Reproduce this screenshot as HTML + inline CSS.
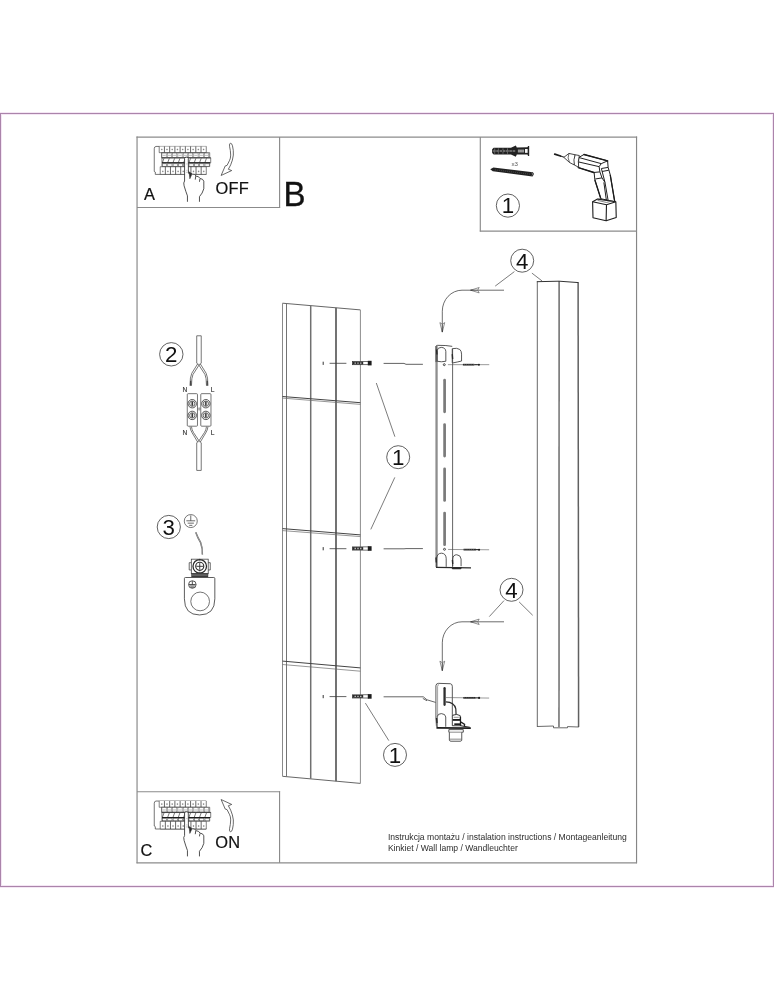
<!DOCTYPE html>
<html lang="pl">
<head>
<meta charset="utf-8">
<title>Instrukcja montażu</title>
<style>
html,body{margin:0;padding:0;background:#fff;}
body{width:774px;height:1000px;position:relative;overflow:hidden;font-family:"Liberation Sans",sans-serif;}
svg{position:absolute;left:0;top:0;display:block;will-change:transform;}
svg text{font-family:"Liberation Sans",sans-serif;}
</style>
</head>
<body>
<svg width="774" height="1000" viewBox="0 0 774 1000">
<rect x="0" y="0" width="774" height="1000" fill="#fff"/>
<rect x="0.5" y="113.5" width="773" height="773" fill="none" stroke="#f4e6f4" stroke-width="3"/>
<rect x="0.5" y="113.5" width="773" height="773" fill="none" stroke="#ab84ab" stroke-width="1"/>
<line x1="137.05" y1="136.5" x2="137.05" y2="863.3" stroke="#8b8b8b" stroke-width="1.2" />
<line x1="136.5" y1="137.05" x2="637.1" y2="137.05" stroke="#8b8b8b" stroke-width="1.2" />
<line x1="636.55" y1="136.5" x2="636.55" y2="863.3" stroke="#868686" stroke-width="1.15" />
<line x1="136.5" y1="862.8" x2="637" y2="862.8" stroke="#8b8b8b" stroke-width="1.2" />
<line x1="279.6" y1="137" x2="279.6" y2="208" stroke="#8b8b8b" stroke-width="1.15" />
<line x1="137" y1="207.45" x2="280.1" y2="207.45" stroke="#8b8b8b" stroke-width="1.15" />
<line x1="480.3" y1="137" x2="480.3" y2="231.6" stroke="#8b8b8b" stroke-width="1.15" />
<line x1="479.8" y1="231.1" x2="636.5" y2="231.1" stroke="#8b8b8b" stroke-width="1.2" />
<line x1="137" y1="791.7" x2="280.1" y2="791.7" stroke="#8b8b8b" stroke-width="1.15" />
<line x1="279.56" y1="791.2" x2="279.56" y2="862.8" stroke="#8b8b8b" stroke-width="1.15" />
<g transform="translate(150,142) scale(0.08527)" ><path d="M660,52 L70,52 Q50,54 50,78 L50,345 L62,352 L62,380 L660,380" stroke="#2c2c2c" stroke-width="7.73982" fill="#fff" />
<path d="M108,52 V125 H660 V52" stroke="#2c2c2c" stroke-width="7.0362" fill="#fff" />
<line x1="169.3" y1="52" x2="169.3" y2="125" stroke="#2c2c2c" stroke-width="8.44344" />
<line x1="230.6" y1="52" x2="230.6" y2="125" stroke="#2c2c2c" stroke-width="8.44344" />
<line x1="291.9" y1="52" x2="291.9" y2="125" stroke="#2c2c2c" stroke-width="8.44344" />
<line x1="353.2" y1="52" x2="353.2" y2="125" stroke="#2c2c2c" stroke-width="8.44344" />
<line x1="414.5" y1="52" x2="414.5" y2="125" stroke="#2c2c2c" stroke-width="8.44344" />
<line x1="475.8" y1="52" x2="475.8" y2="125" stroke="#2c2c2c" stroke-width="8.44344" />
<line x1="537.1" y1="52" x2="537.1" y2="125" stroke="#2c2c2c" stroke-width="8.44344" />
<line x1="598.4" y1="52" x2="598.4" y2="125" stroke="#2c2c2c" stroke-width="8.44344" />
<path d="M129,88 h18 M138,78 v20" stroke="#555" stroke-width="5.62896" fill="none" />
<path d="M190.3,88 h18 M199.3,78 v20" stroke="#555" stroke-width="5.62896" fill="none" />
<path d="M251.6,88 h18 M260.6,78 v20" stroke="#555" stroke-width="5.62896" fill="none" />
<path d="M312.9,88 h18 M321.9,78 v20" stroke="#555" stroke-width="5.62896" fill="none" />
<path d="M374.2,88 h18 M383.2,78 v20" stroke="#555" stroke-width="5.62896" fill="none" />
<path d="M435.5,88 h18 M444.5,78 v20" stroke="#555" stroke-width="5.62896" fill="none" />
<path d="M496.8,88 h18 M505.8,78 v20" stroke="#555" stroke-width="5.62896" fill="none" />
<path d="M558.1,88 h18 M567.1,78 v20" stroke="#555" stroke-width="5.62896" fill="none" />
<path d="M619.4,88 h18 M628.4,78 v20" stroke="#555" stroke-width="5.62896" fill="none" />
<path d="M135,125 H700 V185 H135 Z" stroke="#2c2c2c" stroke-width="7.0362" fill="#fff" />
<rect x="140" y="130" width="50" height="50" fill="#fff" stroke="#555" stroke-width="5.62896"/>
<rect x="146" y="150" width="38" height="14" fill="#c8c8c8"/>
<rect x="202.3" y="130" width="50" height="50" fill="#fff" stroke="#555" stroke-width="5.62896"/>
<rect x="208.3" y="150" width="38" height="14" fill="#c8c8c8"/>
<rect x="264.6" y="130" width="50" height="50" fill="#fff" stroke="#555" stroke-width="5.62896"/>
<rect x="270.6" y="150" width="38" height="14" fill="#c8c8c8"/>
<rect x="326.9" y="130" width="50" height="50" fill="#fff" stroke="#555" stroke-width="5.62896"/>
<rect x="332.9" y="150" width="38" height="14" fill="#c8c8c8"/>
<rect x="389.2" y="130" width="50" height="50" fill="#fff" stroke="#555" stroke-width="5.62896"/>
<rect x="395.2" y="150" width="38" height="14" fill="#c8c8c8"/>
<rect x="451.5" y="130" width="50" height="50" fill="#fff" stroke="#555" stroke-width="5.62896"/>
<rect x="457.5" y="150" width="38" height="14" fill="#c8c8c8"/>
<rect x="513.8" y="130" width="50" height="50" fill="#fff" stroke="#555" stroke-width="5.62896"/>
<rect x="519.8" y="150" width="38" height="14" fill="#c8c8c8"/>
<rect x="576.1" y="130" width="50" height="50" fill="#fff" stroke="#555" stroke-width="5.62896"/>
<rect x="582.1" y="150" width="38" height="14" fill="#c8c8c8"/>
<rect x="638.4" y="130" width="50" height="50" fill="#fff" stroke="#555" stroke-width="5.62896"/>
<rect x="644.4" y="150" width="38" height="14" fill="#c8c8c8"/>
<path d="M140,185 H712 V245 H140 Z" stroke="#2c2c2c" stroke-width="7.0362" fill="#fff" />
<path d="M146,240 L164,192" stroke="#3a3a3a" stroke-width="8.09163" fill="none" />
<path d="M208.3,240 L226.3,192" stroke="#3a3a3a" stroke-width="8.09163" fill="none" />
<path d="M270.6,240 L288.6,192" stroke="#3a3a3a" stroke-width="8.09163" fill="none" />
<path d="M332.9,240 L350.9,192" stroke="#3a3a3a" stroke-width="8.09163" fill="none" />
<path d="M395.2,240 L413.2,192" stroke="#3a3a3a" stroke-width="8.09163" fill="none" />
<path d="M457.5,240 L475.5,192" stroke="#3a3a3a" stroke-width="8.09163" fill="none" />
<path d="M519.8,240 L537.8,192" stroke="#3a3a3a" stroke-width="8.09163" fill="none" />
<path d="M582.1,240 L600.1,192" stroke="#3a3a3a" stroke-width="8.09163" fill="none" />
<path d="M644.4,240 L662.4,192" stroke="#3a3a3a" stroke-width="8.09163" fill="none" />
<line x1="140" y1="187" x2="712" y2="187" stroke="#2a2a2a" stroke-width="8.44344" />
<line x1="140" y1="246" x2="705" y2="246" stroke="#111" stroke-width="15.4796" />
<path d="M140,250 H700 V288 H140 Z" stroke="#2c2c2c" stroke-width="7.0362" fill="#fff" />
<rect x="146" y="256" width="50" height="28" fill="#fff" stroke="#444" stroke-width="6.33258"/>
<rect x="208.3" y="256" width="50" height="28" fill="#fff" stroke="#444" stroke-width="6.33258"/>
<rect x="270.6" y="256" width="50" height="28" fill="#fff" stroke="#444" stroke-width="6.33258"/>
<rect x="332.9" y="256" width="50" height="28" fill="#fff" stroke="#444" stroke-width="6.33258"/>
<rect x="395.2" y="256" width="50" height="28" fill="#fff" stroke="#444" stroke-width="6.33258"/>
<rect x="457.5" y="256" width="50" height="28" fill="#fff" stroke="#444" stroke-width="6.33258"/>
<rect x="519.8" y="256" width="50" height="28" fill="#fff" stroke="#444" stroke-width="6.33258"/>
<rect x="582.1" y="256" width="50" height="28" fill="#fff" stroke="#444" stroke-width="6.33258"/>
<rect x="644.4" y="256" width="50" height="28" fill="#fff" stroke="#444" stroke-width="6.33258"/>
<path d="M120,290 V380 H660 V290 Z" stroke="#2c2c2c" stroke-width="7.0362" fill="#fff" />
<line x1="180" y1="290" x2="180" y2="380" stroke="#2c2c2c" stroke-width="8.44344" />
<line x1="240" y1="290" x2="240" y2="380" stroke="#2c2c2c" stroke-width="8.44344" />
<line x1="300" y1="290" x2="300" y2="380" stroke="#2c2c2c" stroke-width="8.44344" />
<line x1="360" y1="290" x2="360" y2="380" stroke="#2c2c2c" stroke-width="8.44344" />
<line x1="420" y1="290" x2="420" y2="380" stroke="#2c2c2c" stroke-width="8.44344" />
<line x1="480" y1="290" x2="480" y2="380" stroke="#2c2c2c" stroke-width="8.44344" />
<line x1="540" y1="290" x2="540" y2="380" stroke="#2c2c2c" stroke-width="8.44344" />
<line x1="600" y1="290" x2="600" y2="380" stroke="#2c2c2c" stroke-width="8.44344" />
<path d="M141,345 h18 M150,335 v20" stroke="#555" stroke-width="5.62896" fill="none" />
<path d="M201,345 h18 M210,335 v20" stroke="#555" stroke-width="5.62896" fill="none" />
<path d="M261,345 h18 M270,335 v20" stroke="#555" stroke-width="5.62896" fill="none" />
<path d="M321,345 h18 M330,335 v20" stroke="#555" stroke-width="5.62896" fill="none" />
<path d="M381,345 h18 M390,335 v20" stroke="#555" stroke-width="5.62896" fill="none" />
<path d="M441,345 h18 M450,335 v20" stroke="#555" stroke-width="5.62896" fill="none" />
<path d="M501,345 h18 M510,335 v20" stroke="#555" stroke-width="5.62896" fill="none" />
<path d="M561,345 h18 M570,335 v20" stroke="#555" stroke-width="5.62896" fill="none" />
<path d="M621,345 h18 M630,335 v20" stroke="#555" stroke-width="5.62896" fill="none" />
</g>
<g transform="translate(170,150) scale(0.07752)" ><path d="M225,668 L225,592 Q205,540 182,462 Q170,420 188,400 L188,108 Q188,92 211,92 Q236,92 236,108 L238,300 Q270,290 290,312 Q320,305 338,338 Q370,335 388,368 Q425,370 436,402 L436,500 Q420,560 380,602 L380,668" stroke="#262626" stroke-width="10.32" fill="#fff" stroke-linejoin="round"/>
<path d="M246,282 L256,372 L282,314 Z" stroke="#222" stroke-width="6.192" fill="#2a2a2a" />
<path d="M332,336 L326,382 M386,372 L380,410" stroke="#262626" stroke-width="10.32" fill="none" />
<path d="M212,180 h12 M212,262 h12 M210,288 h16" stroke="#888" stroke-width="8.256" fill="none" />
</g>
<g transform="translate(150,796.6) scale(0.08527)" ><path d="M660,52 L70,52 Q50,54 50,78 L50,345 L62,352 L62,380 L660,380" stroke="#2c2c2c" stroke-width="7.73982" fill="#fff" />
<path d="M108,52 V125 H660 V52" stroke="#2c2c2c" stroke-width="7.0362" fill="#fff" />
<line x1="169.3" y1="52" x2="169.3" y2="125" stroke="#2c2c2c" stroke-width="8.44344" />
<line x1="230.6" y1="52" x2="230.6" y2="125" stroke="#2c2c2c" stroke-width="8.44344" />
<line x1="291.9" y1="52" x2="291.9" y2="125" stroke="#2c2c2c" stroke-width="8.44344" />
<line x1="353.2" y1="52" x2="353.2" y2="125" stroke="#2c2c2c" stroke-width="8.44344" />
<line x1="414.5" y1="52" x2="414.5" y2="125" stroke="#2c2c2c" stroke-width="8.44344" />
<line x1="475.8" y1="52" x2="475.8" y2="125" stroke="#2c2c2c" stroke-width="8.44344" />
<line x1="537.1" y1="52" x2="537.1" y2="125" stroke="#2c2c2c" stroke-width="8.44344" />
<line x1="598.4" y1="52" x2="598.4" y2="125" stroke="#2c2c2c" stroke-width="8.44344" />
<path d="M129,88 h18 M138,78 v20" stroke="#555" stroke-width="5.62896" fill="none" />
<path d="M190.3,88 h18 M199.3,78 v20" stroke="#555" stroke-width="5.62896" fill="none" />
<path d="M251.6,88 h18 M260.6,78 v20" stroke="#555" stroke-width="5.62896" fill="none" />
<path d="M312.9,88 h18 M321.9,78 v20" stroke="#555" stroke-width="5.62896" fill="none" />
<path d="M374.2,88 h18 M383.2,78 v20" stroke="#555" stroke-width="5.62896" fill="none" />
<path d="M435.5,88 h18 M444.5,78 v20" stroke="#555" stroke-width="5.62896" fill="none" />
<path d="M496.8,88 h18 M505.8,78 v20" stroke="#555" stroke-width="5.62896" fill="none" />
<path d="M558.1,88 h18 M567.1,78 v20" stroke="#555" stroke-width="5.62896" fill="none" />
<path d="M619.4,88 h18 M628.4,78 v20" stroke="#555" stroke-width="5.62896" fill="none" />
<path d="M135,125 H700 V185 H135 Z" stroke="#2c2c2c" stroke-width="7.0362" fill="#fff" />
<rect x="140" y="130" width="50" height="50" fill="#fff" stroke="#555" stroke-width="5.62896"/>
<rect x="146" y="150" width="38" height="14" fill="#c8c8c8"/>
<rect x="202.3" y="130" width="50" height="50" fill="#fff" stroke="#555" stroke-width="5.62896"/>
<rect x="208.3" y="150" width="38" height="14" fill="#c8c8c8"/>
<rect x="264.6" y="130" width="50" height="50" fill="#fff" stroke="#555" stroke-width="5.62896"/>
<rect x="270.6" y="150" width="38" height="14" fill="#c8c8c8"/>
<rect x="326.9" y="130" width="50" height="50" fill="#fff" stroke="#555" stroke-width="5.62896"/>
<rect x="332.9" y="150" width="38" height="14" fill="#c8c8c8"/>
<rect x="389.2" y="130" width="50" height="50" fill="#fff" stroke="#555" stroke-width="5.62896"/>
<rect x="395.2" y="150" width="38" height="14" fill="#c8c8c8"/>
<rect x="451.5" y="130" width="50" height="50" fill="#fff" stroke="#555" stroke-width="5.62896"/>
<rect x="457.5" y="150" width="38" height="14" fill="#c8c8c8"/>
<rect x="513.8" y="130" width="50" height="50" fill="#fff" stroke="#555" stroke-width="5.62896"/>
<rect x="519.8" y="150" width="38" height="14" fill="#c8c8c8"/>
<rect x="576.1" y="130" width="50" height="50" fill="#fff" stroke="#555" stroke-width="5.62896"/>
<rect x="582.1" y="150" width="38" height="14" fill="#c8c8c8"/>
<rect x="638.4" y="130" width="50" height="50" fill="#fff" stroke="#555" stroke-width="5.62896"/>
<rect x="644.4" y="150" width="38" height="14" fill="#c8c8c8"/>
<path d="M140,185 H712 V245 H140 Z" stroke="#2c2c2c" stroke-width="7.0362" fill="#fff" />
<path d="M146,240 L164,192" stroke="#3a3a3a" stroke-width="8.09163" fill="none" />
<path d="M208.3,240 L226.3,192" stroke="#3a3a3a" stroke-width="8.09163" fill="none" />
<path d="M270.6,240 L288.6,192" stroke="#3a3a3a" stroke-width="8.09163" fill="none" />
<path d="M332.9,240 L350.9,192" stroke="#3a3a3a" stroke-width="8.09163" fill="none" />
<path d="M395.2,240 L413.2,192" stroke="#3a3a3a" stroke-width="8.09163" fill="none" />
<path d="M457.5,240 L475.5,192" stroke="#3a3a3a" stroke-width="8.09163" fill="none" />
<path d="M519.8,240 L537.8,192" stroke="#3a3a3a" stroke-width="8.09163" fill="none" />
<path d="M582.1,240 L600.1,192" stroke="#3a3a3a" stroke-width="8.09163" fill="none" />
<path d="M644.4,240 L662.4,192" stroke="#3a3a3a" stroke-width="8.09163" fill="none" />
<line x1="140" y1="187" x2="712" y2="187" stroke="#2a2a2a" stroke-width="8.44344" />
<line x1="140" y1="246" x2="705" y2="246" stroke="#111" stroke-width="15.4796" />
<path d="M140,250 H700 V288 H140 Z" stroke="#2c2c2c" stroke-width="7.0362" fill="#fff" />
<rect x="146" y="256" width="50" height="28" fill="#fff" stroke="#444" stroke-width="6.33258"/>
<rect x="208.3" y="256" width="50" height="28" fill="#fff" stroke="#444" stroke-width="6.33258"/>
<rect x="270.6" y="256" width="50" height="28" fill="#fff" stroke="#444" stroke-width="6.33258"/>
<rect x="332.9" y="256" width="50" height="28" fill="#fff" stroke="#444" stroke-width="6.33258"/>
<rect x="395.2" y="256" width="50" height="28" fill="#fff" stroke="#444" stroke-width="6.33258"/>
<rect x="457.5" y="256" width="50" height="28" fill="#fff" stroke="#444" stroke-width="6.33258"/>
<rect x="519.8" y="256" width="50" height="28" fill="#fff" stroke="#444" stroke-width="6.33258"/>
<rect x="582.1" y="256" width="50" height="28" fill="#fff" stroke="#444" stroke-width="6.33258"/>
<rect x="644.4" y="256" width="50" height="28" fill="#fff" stroke="#444" stroke-width="6.33258"/>
<path d="M120,290 V380 H660 V290 Z" stroke="#2c2c2c" stroke-width="7.0362" fill="#fff" />
<line x1="180" y1="290" x2="180" y2="380" stroke="#2c2c2c" stroke-width="8.44344" />
<line x1="240" y1="290" x2="240" y2="380" stroke="#2c2c2c" stroke-width="8.44344" />
<line x1="300" y1="290" x2="300" y2="380" stroke="#2c2c2c" stroke-width="8.44344" />
<line x1="360" y1="290" x2="360" y2="380" stroke="#2c2c2c" stroke-width="8.44344" />
<line x1="420" y1="290" x2="420" y2="380" stroke="#2c2c2c" stroke-width="8.44344" />
<line x1="480" y1="290" x2="480" y2="380" stroke="#2c2c2c" stroke-width="8.44344" />
<line x1="540" y1="290" x2="540" y2="380" stroke="#2c2c2c" stroke-width="8.44344" />
<line x1="600" y1="290" x2="600" y2="380" stroke="#2c2c2c" stroke-width="8.44344" />
<path d="M141,345 h18 M150,335 v20" stroke="#555" stroke-width="5.62896" fill="none" />
<path d="M201,345 h18 M210,335 v20" stroke="#555" stroke-width="5.62896" fill="none" />
<path d="M261,345 h18 M270,335 v20" stroke="#555" stroke-width="5.62896" fill="none" />
<path d="M321,345 h18 M330,335 v20" stroke="#555" stroke-width="5.62896" fill="none" />
<path d="M381,345 h18 M390,335 v20" stroke="#555" stroke-width="5.62896" fill="none" />
<path d="M441,345 h18 M450,335 v20" stroke="#555" stroke-width="5.62896" fill="none" />
<path d="M501,345 h18 M510,335 v20" stroke="#555" stroke-width="5.62896" fill="none" />
<path d="M561,345 h18 M570,335 v20" stroke="#555" stroke-width="5.62896" fill="none" />
<path d="M621,345 h18 M630,335 v20" stroke="#555" stroke-width="5.62896" fill="none" />
</g>
<g transform="translate(170,804.6) scale(0.07752)" ><path d="M225,668 L225,592 Q205,540 182,462 Q170,420 188,400 L188,108 Q188,92 211,92 Q236,92 236,108 L238,300 Q270,290 290,312 Q320,305 338,338 Q370,335 388,368 Q425,370 436,402 L436,500 Q420,560 380,602 L380,668" stroke="#262626" stroke-width="10.32" fill="#fff" stroke-linejoin="round"/>
<path d="M246,282 L256,372 L282,314 Z" stroke="#222" stroke-width="6.192" fill="#2a2a2a" />
<path d="M332,336 L326,382 M386,372 L380,410" stroke="#262626" stroke-width="10.32" fill="none" />
<path d="M212,180 h12 M212,262 h12 M210,288 h16" stroke="#888" stroke-width="8.256" fill="none" />
</g>
<g transform="translate(210,138) scale(0.05168)" ><path d="M395,100 Q372,105 378,160 Q398,240 400,330 Q398,400 380,430 L330,530 L295,540 L215,725 L420,630 L355,605 L400,520 Q440,430 452,330 Q458,240 435,150 Q420,98 395,100 Z" stroke="#383838" stroke-width="14.5125" fill="#fff" stroke-linejoin="round"/>
</g>
<g transform="translate(0,975) scale(1,-1)"><g transform="translate(210,138) scale(0.05168)" ><path d="M395,100 Q372,105 378,160 Q398,240 400,330 Q398,400 380,430 L330,530 L295,540 L215,725 L420,630 L355,605 L400,520 Q440,430 452,330 Q458,240 435,150 Q420,98 395,100 Z" stroke="#383838" stroke-width="14.5125" fill="#fff" stroke-linejoin="round"/>
</g>
</g>
<text x="144" y="200.2" font-size="16.4" fill="#111" text-anchor="start" stroke="#111" stroke-width="0.2">A</text>
<text x="215.4" y="194.2" font-size="16.4" fill="#111" text-anchor="start" letter-spacing="0.25" stroke="#111" stroke-width="0.2">OFF</text>
<text x="0" y="0" font-size="34.2" fill="#111" stroke="#111" stroke-width="0.35" transform="translate(283.6,206.1) scale(0.965,1)">B</text>
<text x="140.4" y="855.7" font-size="16.4" fill="#111" text-anchor="start" stroke="#111" stroke-width="0.2">C</text>
<text x="215.2" y="848" font-size="16.4" fill="#111" text-anchor="start" letter-spacing="0.2" stroke="#111" stroke-width="0.2">ON</text>
<g transform="translate(485,140) scale(0.07752)" ><path d="M92,118 L112,100 L335,100 L398,70 L410,98 L548,94 L555,76 L570,76 L570,205 L555,205 L548,188 L410,188 L398,216 L335,186 L112,186 L92,168 Z" stroke="none" stroke-width="0" fill="#222" />
<path d="M104,142 H392" stroke="#e8e8e8" stroke-width="9.03" fill="none" stroke-dasharray="34 8"/>
<path d="M125,108 v22 M172,108 v22 M232,108 v22 M290,108 v22 M125,156 v22 M172,156 v22 M232,156 v22 M290,156 v22" stroke="#bbb" stroke-width="5.805" fill="none" />
<rect x="424" y="122" width="80" height="40" fill="#8c8c8c"/>
<path d="M430,142 h70" stroke="#ddd" stroke-width="6.45" fill="none" stroke-dasharray="12 8"/>
<rect x="516" y="116" width="34" height="50" fill="#f6f6f6"/>
<path d="M68,376 L108,356 L618,416 L632,440 L614,470 L100,402 Z" stroke="none" stroke-width="0" fill="#222" />
<path d="M130,384 L590,442" stroke="#999" stroke-width="4.515" fill="none" stroke-dasharray="10 16"/>
<path d="M600,425 L620,440 L606,458" stroke="#ddd" stroke-width="6.45" fill="none" />
</g>
<text x="514.8" y="165.6" font-size="6.2" fill="#555" text-anchor="middle" >x3</text>
<g transform="translate(575,150) scale(0.07496)" ><path d="M50,100 L120,60 L435,145 L442,232 L470,330 L530,690 L345,650 L265,400 L255,300 L45,235 Z" stroke="#202020" stroke-width="13.34" fill="#fff" stroke-linejoin="round"/>
<path d="M120,60 L435,145 M45,235 L250,300" stroke="#1c1c1c" stroke-width="20.01" fill="none" stroke-linecap="round"/>
<path d="M50,100 L350,182 L435,145 M50,160 L322,222 M350,182 L322,222 L332,292 M442,232 L352,247 M450,270 L360,287 M332,292 L360,372 L270,387 M250,300 L332,292 M360,372 L400,432 L445,690 M385,432 L420,680 M352,247 L400,432" stroke="#202020" stroke-width="13.34" fill="none" stroke-linejoin="round"/>
<path d="M265,400 L345,650 M470,330 L530,690" stroke="#1c1c1c" stroke-width="17.342" fill="none" />
<path d="M235,690 L300,655 L545,690 L550,900 L415,945 L240,905 Z" stroke="#1c1c1c" stroke-width="14.674" fill="#fff" stroke-linejoin="round"/>
<path d="M235,690 L420,730 L545,690 M420,730 L415,945" stroke="#1c1c1c" stroke-width="14.674" fill="none" stroke-linejoin="round"/>
<path d="M300,655 L345,650 M300,672 L420,700 L500,680" stroke="#555" stroke-width="9.338" fill="none" />
</g>
<g transform="translate(545,140) scale(0.10336)" ><path d="M94,137 L150,155" stroke="#1c1c1c" stroke-width="16.4475" fill="none" stroke-linecap="round"/>
<path d="M150,155 L186,167" stroke="#2a2a2a" stroke-width="9.675" fill="none" />
<path d="M182,168 L232,130 L292,143 L284,242 L238,218 Z" stroke="#262626" stroke-width="8.22375" fill="#fff" stroke-linejoin="round"/>
<path d="M232,130 Q212,172 238,218" stroke="#262626" stroke-width="6.579" fill="none" />
<path d="M292,143 L332,150 Q316,205 326,264 L284,242 Q272,190 292,143 Z" stroke="#262626" stroke-width="8.22375" fill="#fff" stroke-linejoin="round"/>
</g>
<circle cx="507.9" cy="205.6" r="11.6" stroke="#3a3a3a" stroke-width="0.8" fill="#fff"/>
<text x="507.9" y="213.471" font-size="22.3" fill="#111" text-anchor="middle" >1</text>
<path d="M282.5,303.2 L360.4,309.9" stroke="#555" stroke-width="0.9" fill="none" />
<path d="M282.5,776.3 L360.4,783.4" stroke="#555" stroke-width="0.9" fill="none" />
<line x1="282.5" y1="303.2" x2="282.5" y2="776.3" stroke="#8a8a8a" stroke-width="1" />
<line x1="360.4" y1="309.9" x2="360.4" y2="783.4" stroke="#8c8c8c" stroke-width="1" />
<line x1="286.5" y1="303.544" x2="286.5" y2="776.665" stroke="#747474" stroke-width="1" />
<line x1="310.7" y1="305.625" x2="310.7" y2="778.87" stroke="#707070" stroke-width="1.5" />
<line x1="336" y1="307.801" x2="336" y2="781.176" stroke="#6c6c6c" stroke-width="1.9" />
<line x1="282.5" y1="396.5" x2="360.4" y2="402.7" stroke="#444" stroke-width="1" />
<line x1="282.5" y1="398.1" x2="360.4" y2="404.4" stroke="#6a6a6a" stroke-width="0.7" />
<line x1="282.5" y1="528.6" x2="360.4" y2="534.9" stroke="#444" stroke-width="1" />
<line x1="282.5" y1="530.6" x2="360.4" y2="536.6" stroke="#6a6a6a" stroke-width="0.7" />
<line x1="282.5" y1="661.1" x2="360.4" y2="667.9" stroke="#444" stroke-width="1" />
<line x1="282.5" y1="664.5" x2="360.4" y2="671.2" stroke="#6a6a6a" stroke-width="0.7" />
<line x1="323.2" y1="361.7" x2="323.2" y2="364.9" stroke="#333" stroke-width="1" />
<line x1="329.6" y1="363.3" x2="346.4" y2="363.3" stroke="#3a3a3a" stroke-width="0.8" />
<rect x="352.4" y="361.5" width="16" height="3.2" fill="#fff" stroke="#333" stroke-width="0.7"/>
<rect x="352.6" y="361.7" width="10.6" height="2.8" fill="#2a2a2a"/>
<path d="M354.6,363.1 h1.2 M357.4,363.1 h1.2 M360.2,363.1 h1.2" stroke="#ddd" stroke-width="1.4" fill="none" />
<rect x="367.8" y="360.8" width="3.8" height="4.6" fill="#1c1c1c"/>
<path d="M383.6,363.4 H404 L406,364.3 H422.9" stroke="#3a3a3a" stroke-width="0.8" fill="none" />
<line x1="323.2" y1="547.1" x2="323.2" y2="550.3" stroke="#333" stroke-width="1" />
<line x1="329.6" y1="548.7" x2="346.4" y2="548.7" stroke="#3a3a3a" stroke-width="0.8" />
<rect x="352.4" y="546.9" width="16" height="3.2" fill="#fff" stroke="#333" stroke-width="0.7"/>
<rect x="352.6" y="547.1" width="10.6" height="2.8" fill="#2a2a2a"/>
<path d="M354.6,548.5 h1.2 M357.4,548.5 h1.2 M360.2,548.5 h1.2" stroke="#ddd" stroke-width="1.4" fill="none" />
<rect x="367.8" y="546.2" width="3.8" height="4.6" fill="#1c1c1c"/>
<path d="M383.6,548.8 H404 L406,548.6 H422.9" stroke="#3a3a3a" stroke-width="0.8" fill="none" />
<line x1="323.2" y1="695" x2="323.2" y2="698.2" stroke="#333" stroke-width="1" />
<line x1="329.6" y1="696.6" x2="346.4" y2="696.6" stroke="#3a3a3a" stroke-width="0.8" />
<rect x="352.4" y="694.8" width="16" height="3.2" fill="#fff" stroke="#333" stroke-width="0.7"/>
<rect x="352.6" y="695" width="10.6" height="2.8" fill="#2a2a2a"/>
<path d="M354.6,696.4 h1.2 M357.4,696.4 h1.2 M360.2,696.4 h1.2" stroke="#ddd" stroke-width="1.4" fill="none" />
<rect x="367.8" y="694.1" width="3.8" height="4.6" fill="#1c1c1c"/>
<path d="M383.6,696.8 H423.3 L427,699.8 L435.6,702.4 M422.8,698.4 L427,700.8" stroke="#333" stroke-width="0.75" fill="none" />
<line x1="376.3" y1="383" x2="394.9" y2="436.7" stroke="#444" stroke-width="0.7" />
<line x1="394.8" y1="477.4" x2="370.8" y2="529.4" stroke="#444" stroke-width="0.7" />
<line x1="365.4" y1="703.1" x2="388.8" y2="740.6" stroke="#444" stroke-width="0.7" />
<circle cx="398.2" cy="457.2" r="11.5" stroke="#3a3a3a" stroke-width="0.8" fill="#fff"/>
<text x="398.2" y="465.071" font-size="22.3" fill="#111" text-anchor="middle" >1</text>
<circle cx="395" cy="754.9" r="11.5" stroke="#3a3a3a" stroke-width="0.8" fill="#fff"/>
<text x="395" y="762.771" font-size="22.3" fill="#111" text-anchor="middle" >1</text>
<line x1="436.55" y1="346" x2="436.55" y2="567" stroke="#8e8e8e" stroke-width="2.3" />
<line x1="452.6" y1="349" x2="452.6" y2="567" stroke="#3c3c3c" stroke-width="0.8" />
<line x1="444.6" y1="380.2" x2="444.6" y2="411.8" stroke="#7a7a7a" stroke-width="2.7" stroke-linecap="round"/>
<line x1="444.6" y1="424.5" x2="444.6" y2="456.1" stroke="#7a7a7a" stroke-width="2.7" stroke-linecap="round"/>
<line x1="444.6" y1="468.8" x2="444.6" y2="500.4" stroke="#7a7a7a" stroke-width="2.7" stroke-linecap="round"/>
<line x1="444.6" y1="513.1" x2="444.6" y2="544.7" stroke="#7a7a7a" stroke-width="2.7" stroke-linecap="round"/>
<g transform="translate(420,335) scale(0.10336)" ><path d="M155,262 L155,108 Q158,98 172,100 L250,102 L312,110" stroke="#3a3a3a" stroke-width="8.22375" fill="none" />
<path d="M166,254 L166,150 Q170,120 206,120 Q248,122 250,160 L250,254 Q206,264 166,254" stroke="#3a3a3a" stroke-width="8.22375" fill="none" />
<path d="M312,270 L312,132 Q360,122 385,140 Q402,155 402,185 L402,252 Q360,262 318,270" stroke="#3a3a3a" stroke-width="8.22375" fill="none" />
<path d="M160,140 L164,188 M312,185 L316,232" stroke="#2a2a2a" stroke-width="13.158" fill="none" />
<circle cx="235" cy="287" r="9.5" stroke="#2a2a2a" stroke-width="8.22375" fill="#fff"/>
<line x1="270" y1="287" x2="670" y2="287" stroke="#555" stroke-width="5.75663" />
<path d="M415,287 H525" stroke="#2a2a2a" stroke-width="16.4475" fill="none" />
<path d="M425,287 H520" stroke="#999" stroke-width="4.8375" fill="none" stroke-dasharray="8 14"/>
<path d="M525,287 H560" stroke="#2a2a2a" stroke-width="9.8685" fill="none" />
<circle cx="570" cy="287" r="10" stroke="none" stroke-width="0" fill="#1a1a1a"/>
</g>
<g transform="translate(400,480) scale(0.15504)" ><path d="M236,560 L236,505 Q240,472 268,472 Q296,474 298,505 L298,560" stroke="#3a3a3a" stroke-width="5.4825" fill="none" />
<path d="M340,555 L340,510 Q342,482 366,482 Q392,484 394,510 L394,556" stroke="#3a3a3a" stroke-width="5.4825" fill="none" />
<path d="M232,500 L234,532 M338,515 L340,542" stroke="#2a2a2a" stroke-width="8.772" fill="none" />
<path d="M232,563 L458,567" stroke="#2a2a2a" stroke-width="7.6755" fill="none" />
<path d="M328,561 L402,562 L392,575 L338,575 Z" stroke="none" stroke-width="0" fill="#2a2a2a" />
<circle cx="287" cy="447" r="6.3" stroke="#2a2a2a" stroke-width="5.4825" fill="#fff"/>
<line x1="310" y1="448" x2="575" y2="450" stroke="#555" stroke-width="3.83775" />
<path d="M410,449 H490" stroke="#2a2a2a" stroke-width="10.965" fill="none" />
<path d="M416,449 H486" stroke="#999" stroke-width="3.225" fill="none" stroke-dasharray="5 9"/>
<path d="M490,449 H508" stroke="#2a2a2a" stroke-width="6.579" fill="none" />
<circle cx="510" cy="450" r="7" stroke="none" stroke-width="0" fill="#1a1a1a"/>
</g>
<g transform="translate(400,665) scale(0.12920)" ><path d="M278,410 L278,160 Q280,142 298,142 L390,145 Q405,148 405,165 L405,400" stroke="#3a3a3a" stroke-width="6.579" fill="none" />
<path d="M291,400 L291,165 Q292,153 302,151" stroke="#888" stroke-width="5.9211" fill="none" />
<path d="M278,410 L282,470 Q285,485 300,485" stroke="#3a3a3a" stroke-width="6.579" fill="none" />
<line x1="345" y1="180" x2="345" y2="308" stroke="#2e2e2e" stroke-width="17.802" stroke-linecap="round"/>
<line x1="355" y1="252" x2="690" y2="256" stroke="#555" stroke-width="4.6053" />
<path d="M490,254 H585" stroke="#2a2a2a" stroke-width="13.158" fill="none" />
<path d="M496,254 H582" stroke="#999" stroke-width="3.87" fill="none" stroke-dasharray="6 11"/>
<path d="M585,254 H606" stroke="#2a2a2a" stroke-width="6.579" fill="none" />
<circle cx="612" cy="255" r="8.5" stroke="none" stroke-width="0" fill="#1a1a1a"/>
<path d="M355,285 Q420,285 432,340 L434,385" stroke="#2a2a2a" stroke-width="9.2106" fill="none" />
<path d="M288,478 L288,400 Q292,376 320,376 Q352,378 354,402 L354,478" stroke="#3a3a3a" stroke-width="6.579" fill="none" />
<path d="M283,410 L286,450" stroke="#2a2a2a" stroke-width="10.5264" fill="none" />
<path d="M405,400 L410,388 Q440,375 466,392 L470,470 L405,470 Z" stroke="#1e1e1e" stroke-width="6.579" fill="#fff" />
<path d="M408,425 H468" stroke="#1e1e1e" stroke-width="14.4738" fill="none" />
<path d="M420,458 H470" stroke="#1e1e1e" stroke-width="13.158" fill="none" />
<path d="M468,400 V470 M466,438 L500,460 L498,478" stroke="#1e1e1e" stroke-width="9.8685" fill="none" />
<path d="M415,405 H455" stroke="#666" stroke-width="5.2632" fill="none" />
<path d="M282,486 L548,488" stroke="#1e1e1e" stroke-width="13.158" fill="none" />
<path d="M470,470 L540,481" stroke="#2a2a2a" stroke-width="7.8948" fill="none" />
<path d="M378,500 H490 V520 H478 V582 Q476,590 465,590 H395 Q384,590 382,582 V520 H378 Z" stroke="#3a3a3a" stroke-width="6.579" fill="#fff" />
<path d="M382,520 H478 M384,574 H476" stroke="#666" stroke-width="5.9211" fill="none" />
</g>
<path d="M504.0,290.2 H462 A19.7,21 0 0 0 442.3,311.2 V331.8" stroke="#3c3c3c" stroke-width="0.75" fill="none" />
<path d="M470.6,290.2 L479.2,287.5 L477.6,290.2 L479.2,292.9 Z" stroke="#444" stroke-width="0.6" fill="#fff" />
<line x1="470.6" y1="290.2" x2="477.6" y2="290.2" stroke="#333" stroke-width="0.9" />
<path d="M442.3,332.1 L439.9,322.6 L442.3,324.2 L444.7,322.6 Z" stroke="#444" stroke-width="0.6" fill="#fff" />
<line x1="442.3" y1="324.2" x2="442.3" y2="332.1" stroke="#333" stroke-width="0.9" />
<path d="M504.0,621.8 H462 A19.7,21 0 0 0 442.3,642.8 V670.4" stroke="#3c3c3c" stroke-width="0.75" fill="none" />
<path d="M470.6,621.8 L479.2,619.1 L477.6,621.8 L479.2,624.5 Z" stroke="#444" stroke-width="0.6" fill="#fff" />
<line x1="470.6" y1="621.8" x2="477.6" y2="621.8" stroke="#333" stroke-width="0.9" />
<path d="M442.3,670.7 L439.9,661.2 L442.3,662.8 L444.7,661.2 Z" stroke="#444" stroke-width="0.6" fill="#fff" />
<line x1="442.3" y1="662.8" x2="442.3" y2="670.7" stroke="#333" stroke-width="0.9" />
<line x1="537.3" y1="281.6" x2="537.3" y2="726.4" stroke="#686868" stroke-width="1" />
<line x1="559.1" y1="280.9" x2="559" y2="727" stroke="#565656" stroke-width="1.3" />
<line x1="578.1" y1="282.4" x2="578.6" y2="727" stroke="#606060" stroke-width="1.5" />
<path d="M536.8,281.7 L559.1,281.2 L578.6,282.6" stroke="#333" stroke-width="1" fill="none" />
<path d="M536.9,726.5 L553.5,726 V727.8 H567.5 V726.6 L578.8,727" stroke="#444" stroke-width="0.8" fill="none" />
<line x1="514.4" y1="271.6" x2="495.2" y2="286.1" stroke="#444" stroke-width="0.7" />
<line x1="531.9" y1="273.1" x2="542" y2="280.9" stroke="#444" stroke-width="0.7" />
<circle cx="522.2" cy="260.7" r="11.5" stroke="#3a3a3a" stroke-width="0.8" fill="#fff"/>
<text x="522.2" y="268.571" font-size="22.3" fill="#111" text-anchor="middle" >4</text>
<line x1="504" y1="600.6" x2="489.3" y2="616.6" stroke="#444" stroke-width="0.7" />
<line x1="519.1" y1="601.9" x2="532.7" y2="615.3" stroke="#444" stroke-width="0.7" />
<circle cx="511.5" cy="589.8" r="11.5" stroke="#3a3a3a" stroke-width="0.8" fill="#fff"/>
<text x="511.5" y="597.671" font-size="22.3" fill="#111" text-anchor="middle" >4</text>
<g transform="translate(145,325) scale(0.14993)" ><path d="M345,255 V72 H375 V255" stroke="#4a4a4a" stroke-width="5.0025" fill="none" />
<path d="M352,258 L312,322 Q300,345 300,405 M360,268 L320,330 Q310,350 310,405" stroke="#4a4a4a" stroke-width="5.0025" fill="none" />
<path d="M368,258 L408,322 Q420,345 420,405 M360,268 L400,330 Q410,350 410,405" stroke="#4a4a4a" stroke-width="5.0025" fill="none" />
<path d="M345,255 L360,268 L375,255" stroke="#4a4a4a" stroke-width="5.0025" fill="none" />
<path d="M305,372 V406 M415,372 V406" stroke="#333" stroke-width="7.50375" fill="none" />
<rect x="282" y="458" width="68" height="217" rx="6" fill="#fff" stroke="#484848" stroke-width="5.0025"/>
<rect x="372" y="458" width="68" height="217" rx="6" fill="#fff" stroke="#484848" stroke-width="5.0025"/>
<circle cx="315" cy="525" r="28" stroke="#333" stroke-width="5.50275" fill="#fff"/>
<circle cx="315" cy="525" r="18" stroke="#444" stroke-width="5.0025" fill="#e4e4e4"/>
<line x1="315" y1="511" x2="315" y2="539" stroke="#1c1c1c" stroke-width="8.50425" />
<circle cx="315" cy="603" r="28" stroke="#333" stroke-width="5.50275" fill="#fff"/>
<circle cx="315" cy="603" r="18" stroke="#444" stroke-width="5.0025" fill="#e4e4e4"/>
<line x1="315" y1="589" x2="315" y2="617" stroke="#1c1c1c" stroke-width="8.50425" />
<circle cx="406" cy="525" r="28" stroke="#333" stroke-width="5.50275" fill="#fff"/>
<circle cx="406" cy="525" r="18" stroke="#444" stroke-width="5.0025" fill="#e4e4e4"/>
<line x1="406" y1="511" x2="406" y2="539" stroke="#1c1c1c" stroke-width="8.50425" />
<circle cx="406" cy="603" r="28" stroke="#333" stroke-width="5.50275" fill="#fff"/>
<circle cx="406" cy="603" r="18" stroke="#444" stroke-width="5.0025" fill="#e4e4e4"/>
<line x1="406" y1="589" x2="406" y2="617" stroke="#1c1c1c" stroke-width="8.50425" />
<path d="M350,560 H372 M361,548 V572" stroke="#555" stroke-width="3.50175" fill="none" />
<path d="M300,678 Q302,700 315,720 L352,782 M310,678 Q312,700 324,718 L360,772" stroke="#4a4a4a" stroke-width="5.0025" fill="none" />
<path d="M420,678 Q418,700 405,720 L368,782 M410,678 Q408,700 396,718 L360,772" stroke="#4a4a4a" stroke-width="5.0025" fill="none" />
<path d="M345,970 V785 L360,772 L375,785 V970 Z" stroke="#4a4a4a" stroke-width="5.0025" fill="none" />
</g>
<circle cx="171.3" cy="354.3" r="11.7" stroke="#3a3a3a" stroke-width="0.8" fill="#fff"/>
<text x="171.3" y="362.171" font-size="22.3" fill="#111" text-anchor="middle" >2</text>
<text x="184.8" y="392.2" font-size="6.6" fill="#333" text-anchor="middle" stroke="#333" stroke-width="0.15">N</text>
<text x="212.6" y="392.2" font-size="6.6" fill="#333" text-anchor="middle" stroke="#333" stroke-width="0.15">L</text>
<text x="184.8" y="434.6" font-size="6.6" fill="#333" text-anchor="middle" stroke="#333" stroke-width="0.15">N</text>
<text x="212.6" y="434.6" font-size="6.6" fill="#333" text-anchor="middle" stroke="#333" stroke-width="0.15">L</text>
<g transform="translate(145,500) scale(0.13004)" ><circle cx="352" cy="162" r="50" stroke="#4a4a4a" stroke-width="5.7675" fill="#fff"/>
<path d="M352,118 V160 M318,160 H386 M328,178 H376 M340,195 H364" stroke="#3a3a3a" stroke-width="5.7675" fill="none" />
<path d="M390,248 Q405,290 428,328 Q444,370 441,420" stroke="#5a5a5a" stroke-width="11.535" fill="none" />
<path d="M390,248 Q405,290 428,328 Q444,370 441,420" stroke="#f0f0f0" stroke-width="3.076" fill="none" />
<rect x="356" y="455" width="130" height="112" fill="#fff" stroke="#3a3a3a" stroke-width="5.7675"/>
<path d="M356,482 H340 V538 H356 M486,482 H502 V538 H486" stroke="#3a3a3a" stroke-width="5.7675" fill="none" />
<circle cx="421" cy="510" r="52" stroke="#2a2a2a" stroke-width="9.80475" fill="#fff"/>
<circle cx="421" cy="510" r="31" stroke="#2a2a2a" stroke-width="8.65125" fill="#fff"/>
<path d="M396,510 H446 M421,485 V535" stroke="#2a2a2a" stroke-width="6.921" fill="none" />
<path d="M421,452 V470 M421,550 V566" stroke="#333" stroke-width="4.614" fill="none" />
<rect x="356" y="563" width="130" height="32" fill="#3a3a3a"/>
<path d="M360,577 H482" stroke="#b8b8b8" stroke-width="4.614" fill="none" />
<path d="M311,596 H529 Q537,596 537,604 V760 Q537,884 420,884 Q303,884 303,760 V604 Q303,596 311,596 Z" stroke="#3a3a3a" stroke-width="6.34425" fill="#fff" />
<circle cx="424" cy="780" r="72" stroke="#444" stroke-width="5.7675" fill="#fff"/>
<circle cx="364" cy="650" r="29" stroke="#333" stroke-width="6.34425" fill="#fff"/>
<path d="M364,624 V650 M338,650 H390" stroke="#2a2a2a" stroke-width="6.34425" fill="none" />
<path d="M344,661 H384 M352,671 H376" stroke="#555" stroke-width="7.49775" fill="none" />
</g>
<circle cx="168.8" cy="527" r="11.6" stroke="#3a3a3a" stroke-width="0.8" fill="#fff"/>
<text x="168.8" y="534.871" font-size="22.3" fill="#111" text-anchor="middle" >3</text>
<text x="387.9" y="840.1" font-size="8.58" fill="#2c2c2c" text-anchor="start" id="cap1">Instrukcja montażu / instalation instructions / Montageanleitung</text>
<text x="387.9" y="851" font-size="8.58" fill="#2c2c2c" text-anchor="start" id="cap2">Kinkiet / Wall lamp / Wandleuchter</text>
</svg>
</body>
</html>
